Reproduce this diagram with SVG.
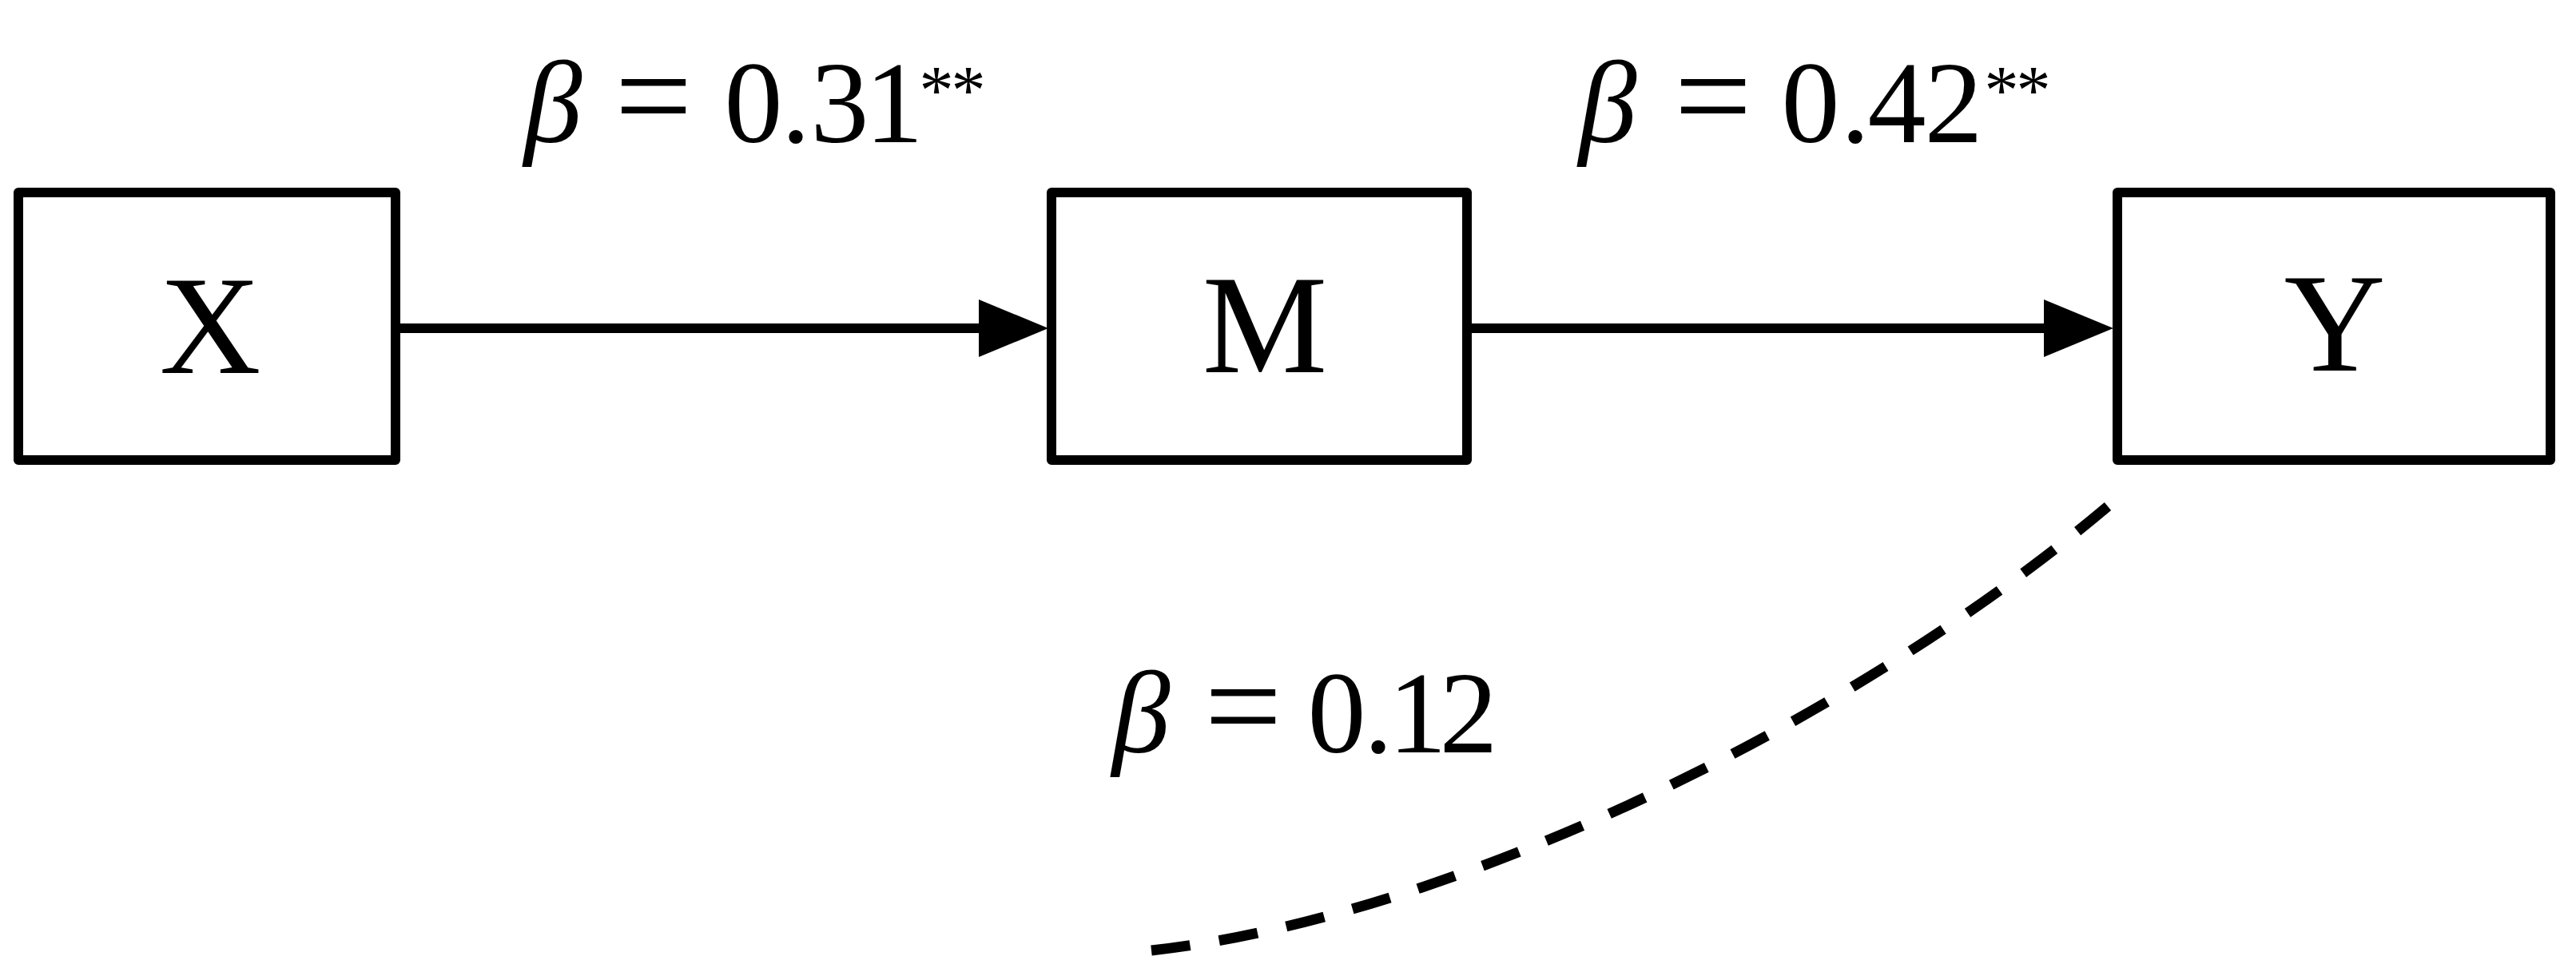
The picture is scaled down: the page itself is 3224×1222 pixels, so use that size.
<svg xmlns="http://www.w3.org/2000/svg" width="3224" height="1222" viewBox="0 0 3224 1222">
  <style>
    .box { fill: #ffffff; stroke: #000000; stroke-width: 12; stroke-linejoin: round; }
    .node-text { font-family: "Liberation Serif", "Times New Roman", serif; font-size: 176px; fill: #000000; text-anchor: middle; }
    .edge { fill: none; stroke: #000000; stroke-width: 12; }
    .dashed { fill: none; stroke: #000000; stroke-width: 13; stroke-dasharray: 48 36; }
    .lbl { font-family: "Liberation Serif", "Times New Roman", serif; font-size: 146px; fill: #000000; text-anchor: middle; }
    .it { font-style: italic; }
    .eq { font-size: 172px; }
    .sup { font-size: 86px; }
  </style>
  <defs>
    <marker id="arrow" viewBox="0 0 87 72" refX="10" refY="36" markerWidth="87" markerHeight="72" markerUnits="userSpaceOnUse" orient="auto">
      <path d="M0,0 L87,36 L0,72 Z" fill="#000000"/>
    </marker>
  </defs>
  <rect width="3224" height="1222" fill="#ffffff"/>

  <g id="connectors">
    <line id="edge-x-m" class="edge" x1="495" y1="411" x2="1235" y2="411" marker-end="url(#arrow)"/>
    <line id="edge-m-y" class="edge" x1="1836" y1="411" x2="2568" y2="411" marker-end="url(#arrow)"/>
    <path id="edge-direct" class="dashed" pathLength="1308" d="M1441,1190 C1790,1152 2292,925 2638,634"/>
  </g>

  <g id="node-x">
    <rect class="box" x="23" y="241" width="472" height="335"/>
    <text class="node-text" x="263" y="467">X</text>
  </g>
  <g id="node-m">
    <rect class="box" x="1316" y="241" width="520" height="335"/>
    <text class="node-text" x="1583" y="466">M</text>
  </g>
  <g id="node-y">
    <rect class="box" x="2650" y="241" width="542" height="335"/>
    <text class="node-text" x="2922" y="464">Y</text>
  </g>

  <g id="labels">
    <text class="lbl" y="178"><tspan class="it" x="692">β</tspan><tspan class="eq" x="818">=</tspan><tspan x="943 996 1051 1119">0.31</tspan><tspan class="sup" x="1172 1212" y="142">**</tspan></text>
    <text class="lbl" y="178"><tspan class="it" x="2012">β</tspan><tspan class="eq" x="2144">=</tspan><tspan x="2266 2322 2374 2445">0.42</tspan><tspan class="sup" x="2505 2545" y="142">**</tspan></text>
    <text class="lbl" y="942"><tspan class="it" x="1428">β</tspan><tspan class="eq" x="1556">=</tspan><tspan x="1673 1725 1774 1838">0.12</tspan></text>
  </g>
</svg>
